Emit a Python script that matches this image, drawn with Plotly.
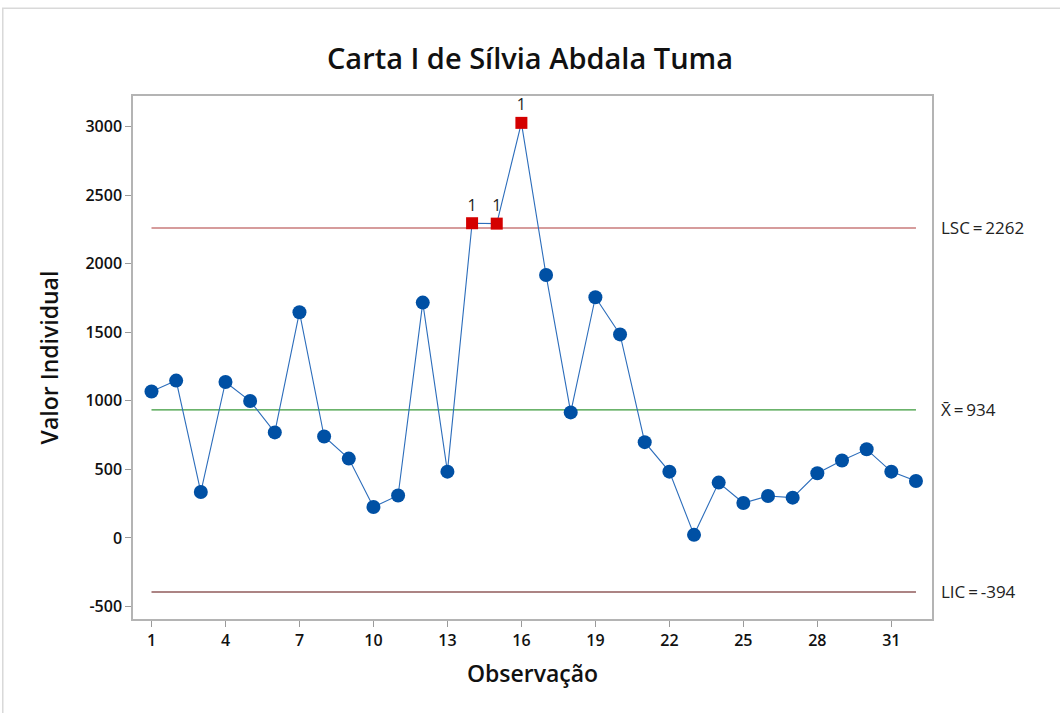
import plotly.graph_objects as go

# Individual observations (I chart)
observacao = list(range(1, 33))
valores = [1068, 1148, 335, 1138, 999, 770, 1647, 740, 579, 226, 310, 1717,
           484, 2296, 2293, 3028, 1918, 916, 1756, 1485, 699, 484, 23, 404,
           255, 306, 294, 472, 565, 647, 484, 416]

# Control limits
lsc = 2262
media = 934
lic = -394

x_ticks = list(range(1, 32, 3))
y_ticks = [-500, 0, 500, 1000, 1500, 2000, 2500, 3000]
y_tick_text = [str(v) for v in y_ticks]

FONT = "Open Sans"
SP = "\u2009"

fora = [i for i, v in enumerate(valores) if v > lsc or v < lic]
dentro = [i for i in range(len(valores)) if i not in fora]

fig = go.Figure()

# Control limit lines
for val, cor, w in [(lsc, "#C97B7B", 1.5), (media, "#3A9A3A", 1.2), (lic, "#5A0A0A", 1.1)]:
    fig.add_trace(go.Scatter(x=[observacao[0], observacao[-1]], y=[val, val], mode="lines",
                             line=dict(color=cor, width=w), hoverinfo="skip", showlegend=False))

# Connecting line
fig.add_trace(go.Scatter(x=observacao, y=valores, mode="lines",
                         line=dict(color="#2C6DBB", width=1.1), showlegend=False))

# In-control points
fig.add_trace(go.Scatter(x=[observacao[i] for i in dentro], y=[valores[i] for i in dentro],
                         mode="markers", marker=dict(symbol="circle", size=14, color="#0050A4"),
                         showlegend=False))

# Out-of-control points, flagged with test 1
fig.add_trace(go.Scatter(x=[observacao[i] for i in fora], y=[valores[i] for i in fora],
                         mode="markers+text", text=["1"] * len(fora), textposition="top center",
                         textfont=dict(family=FONT, size=16, color="#222222"),
                         marker=dict(symbol="square", size=12, color="#D40000"),
                         showlegend=False))

# Limit labels on the right
for val, txt in [(lsc, f"LSC{SP}={SP}{lsc}"), (media, f"X\u0304{SP}={SP}{media}"),
                 (lic, f"LIC{SP}={SP}{lic}")]:
    fig.add_annotation(x=1.009, xref="paper", y=val, yref="y", text=txt, showarrow=False,
                       xanchor="left", yanchor="middle",
                       font=dict(family=FONT, size=17, color="#222222"))

# Outer frame
fig.add_shape(type="rect", xref="paper", yref="paper", x0=-0.163, x1=1.3, y0=-0.5, y1=1.168,
              line=dict(color="#D9D9D9", width=1.5), layer="below")

fig.update_layout(
    width=1060, height=713,
    margin=dict(l=133, r=128, t=96, b=94),
    paper_bgcolor="white", plot_bgcolor="white",
    font=dict(family=FONT, color="#111111"),
    title=dict(text="Carta I de Sílvia Abdala Tuma", x=0.5, xref="container", y=0.918,
               yanchor="middle",
               font=dict(family=FONT, size=29, color="#111111", weight=600)),
    showlegend=False,
)

fig.update_xaxes(range=[0.25, 32.65], tickvals=x_ticks, showgrid=False, zeroline=False,
                 showline=True, linecolor="#B4B4B4", linewidth=1.5, mirror=True,
                 ticks="outside", ticklen=6, tickcolor="#9A9A9A",
                 tickfont=dict(family=FONT, size=16, color="#111111", weight=600),
                 title=dict(text="Observação", standoff=16,
                            font=dict(family=FONT, size=23, color="#111111", weight=600)))

fig.update_yaxes(range=[-591, 3224], tickvals=y_ticks, ticktext=y_tick_text, showgrid=False,
                 zeroline=False, showline=True, linecolor="#B4B4B4", linewidth=1.5, mirror=True,
                 ticks="outside", ticklen=6, tickcolor="#9A9A9A",
                 tickfont=dict(family=FONT, size=16, color="#111111", weight=600),
                 title=dict(text="Valor Individual", standoff=20,
                            font=dict(family=FONT, size=23, color="#111111", weight=600)))

fig.write_html("out.html")
